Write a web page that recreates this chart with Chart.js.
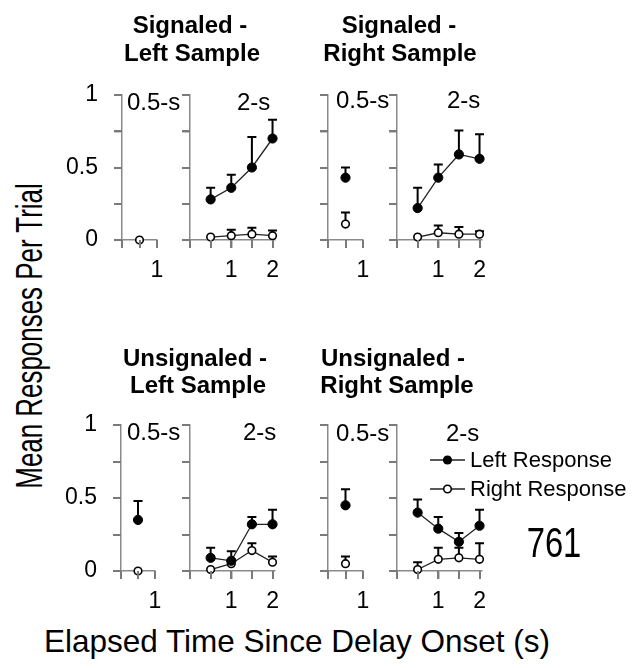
<!DOCTYPE html>
<html>
<head>
<meta charset="utf-8">
<script src="https://cdn.jsdelivr.net/npm/chart.js@4.4.0/dist/chart.umd.min.js"></script>
<style>
  html, body { margin: 0; padding: 0; background: #fff; }
  #fig { position: relative; width: 632px; height: 668px; overflow: hidden; font-family: "Liberation Sans", Arial, sans-serif; color: #000; }
  #fig canvas { position: absolute; background: transparent; }
  .txt { position: absolute; white-space: nowrap; line-height: 1; pointer-events: none; }
</style>
</head>
<body>
<div id="fig"></div>
<script>
// elapsed time of each sample within the delay (s)
const timesShort = [0.5];
const timesLong = [0.5, 1, 1.5, 2];

// Signaled - Left Sample
const sigLeftShortL = [null];
const sigLeftShortLErr = [0];
const sigLeftShortR = [0];
const sigLeftShortRErr = [0];
const sigLeftLongL = [0.28, 0.36, 0.50, 0.70];
const sigLeftLongLErr = [0.08, 0.09, 0.21, 0.13];
const sigLeftLongR = [0.02, 0.03, 0.04, 0.03];
const sigLeftLongRErr = [0, 0.04, 0.045, 0.035];

// Signaled - Right Sample
const sigRightShortL = [0.43];
const sigRightShortLErr = [0.07];
const sigRightShortR = [0.11];
const sigRightShortRErr = [0.08];
const sigRightLongL = [0.22, 0.43, 0.59, 0.56];
const sigRightLongLErr = [0.14, 0.09, 0.165, 0.17];
const sigRightLongR = [0.02, 0.05, 0.04, 0.04];
const sigRightLongRErr = [0, 0.05, 0.05, 0.02];

// Unsignaled - Left Sample
const unsLeftShortL = [0.35];
const unsLeftShortLErr = [0.13];
const unsLeftShortR = [0];
const unsLeftShortRErr = [0];
const unsLeftLongL = [0.09, 0.07, 0.32, 0.32];
const unsLeftLongLErr = [0.07, 0.065, 0.05, 0.1];
const unsLeftLongR = [0.01, 0.05, 0.14, 0.06];
const unsLeftLongRErr = [0, 0.02, 0.05, 0.04];

// Unsignaled - Right Sample
const unsRightShortL = [0.45];
const unsRightShortLErr = [0.11];
const unsRightShortR = [0.05];
const unsRightShortRErr = [0.05];
const unsRightLongL = [0.40, 0.29, 0.20, 0.31];
const unsRightLongLErr = [0.09, 0.08, 0.06, 0.11];
const unsRightLongR = [0.01, 0.08, 0.09, 0.08];
const unsRightLongRErr = [0.05, 0.08, 0.07, 0.11];

const yTicks = [0, 0.25, 0.5, 0.75, 1];
const yTickLabels = { 0: '0', 0.5: '0.5', 1: '1' };
const xTicksShort = [0, 0.5, 1];
const xTicksLong = [0, 0.5, 1, 1.5, 2];
const xTickLabels = { 1: '1', 2: '2' };

const FONT = '"Liberation Sans", Arial, sans-serif';
const AXIS = '#8a8a8a';
const TICK = '#7a7a7a';
const TICK_LEN = 8;
const fig = document.getElementById('fig');

// outward tick marks on both axes, taken from each scale's own ticks;
// drawn last so nothing paints over them
const axisTicks = {
  id: 'axisTicks',
  afterDraw(chart) {
    const ctx = chart.ctx;
    const xs = chart.scales.x, ys = chart.scales.y;
    const area = chart.chartArea;
    ctx.save();
    ctx.strokeStyle = TICK;
    ctx.lineWidth = 2;
    ctx.setLineDash([]);
    ctx.beginPath();
    ys.ticks.forEach((t) => {
      const py = Math.round(ys.getPixelForValue(t.value));
      ctx.moveTo(area.left - TICK_LEN, py);
      ctx.lineTo(area.left, py);
    });
    xs.ticks.forEach((t) => {
      const px = Math.round(xs.getPixelForValue(t.value));
      ctx.moveTo(px, area.bottom);
      ctx.lineTo(px, area.bottom + TICK_LEN);
    });
    ctx.stroke();
    ctx.restore();
  }
};

// upward error bars, drawn under the markers
const errorBars = {
  id: 'errorBars',
  beforeDatasetsDraw(chart) {
    const ctx = chart.ctx;
    const xs = chart.scales.x, ys = chart.scales.y;
    chart.data.datasets.forEach((ds) => {
      if (!ds.errors) return;
      ctx.save();
      ctx.strokeStyle = '#000';
      ctx.lineWidth = 2;
      ds.data.forEach((p, i) => {
        const e = ds.errors[i];
        if (p.y == null || !e) return;
        const px = xs.getPixelForValue(p.x);
        const y0 = ys.getPixelForValue(p.y);
        const y1 = ys.getPixelForValue(p.y + e);
        ctx.beginPath();
        ctx.moveTo(px, y0);
        ctx.lineTo(px, y1);
        ctx.moveTo(px - 4.5, y1);
        ctx.lineTo(px + 4.5, y1);
        ctx.stroke();
      });
      ctx.restore();
    });
  }
};

function points(xs, ys) {
  return xs.map((x, i) => ({ x: x, y: ys[i] }));
}

function axisGrid() {
  return { drawOnChartArea: false, tickLength: TICK_LEN, color: AXIS, lineWidth: 1.5 };
}

function panel(box, xMax, xs, left, leftErr, right, rightErr, showY) {
  const padL = 70, padT = 12, padR = 12, padB = 50;
  const w = Math.round(box.right - box.left + padL + padR);
  const h = Math.round(box.bottom - box.top + padT + padB);
  const canvas = document.createElement('canvas');
  canvas.width = w;
  canvas.height = h;
  canvas.style.left = Math.round(box.left - padL) + 'px';
  canvas.style.top = Math.round(box.top - padT) + 'px';
  fig.appendChild(canvas);

  const xTickList = xMax > 1.5 ? xTicksLong : xTicksShort;

  return new Chart(canvas, {
    type: 'line',
    data: {
      datasets: [
        {
          label: 'Left Response',
          data: points(xs, left),
          errors: leftErr,
          borderColor: '#222',
          borderWidth: 1.3,
          pointRadius: 4.6,
          pointBackgroundColor: '#000',
          pointBorderColor: '#000',
          pointBorderWidth: 1,
          clip: false
        },
        {
          label: 'Right Response',
          data: points(xs, right),
          errors: rightErr,
          borderColor: '#222',
          borderWidth: 1.3,
          pointRadius: 3.8,
          pointBackgroundColor: '#fff',
          pointBorderColor: '#000',
          pointBorderWidth: 1.6,
          clip: false
        }
      ]
    },
    options: {
      responsive: false,
      animation: false,
      layout: { padding: { left: 0, top: padT, right: padR, bottom: 0 } },
      plugins: { legend: { display: false }, tooltip: { enabled: false } },
      scales: {
        x: {
          type: 'linear',
          min: 0,
          max: xMax,
          afterBuildTicks: (s) => { s.ticks = xTickList.map((v) => ({ value: v })); },
          afterFit: (s) => { s.height = padB; s.paddingLeft = 0; s.paddingRight = 0; },
          grid: axisGrid(),
          border: { color: AXIS, width: 1.5 },
          ticks: {
            callback: (v) => xTickLabels[v] || '',
            font: { family: FONT, size: 23 },
            color: '#000',
            padding: 9,
            maxRotation: 0
          }
        },
        y: {
          type: 'linear',
          min: 0,
          max: 1,
          afterBuildTicks: (s) => { s.ticks = yTicks.map((v) => ({ value: v })); },
          afterFit: (s) => { s.width = padL; s.paddingTop = 0; s.paddingBottom = 0; },
          grid: axisGrid(),
          border: { color: AXIS, width: 1.5 },
          ticks: {
            callback: (v) => (showY ? (yTickLabels[v] || '') : ''),
            font: { family: FONT, size: 23 },
            color: '#000',
            padding: 16
          }
        }
      }
    },
    plugins: [errorBars, axisTicks]
  });
}

// text placed by its baseline; anchor 'left' or 'center'
function text(str, x, baseline, size, opts) {
  opts = opts || {};
  const d = document.createElement('div');
  d.className = 'txt';
  d.textContent = str;
  d.style.fontSize = size + 'px';
  if (opts.bold) d.style.fontWeight = 'bold';
  d.style.left = x + 'px';
  d.style.top = (baseline - 0.8465 * size) + 'px';
  const sx = opts.sx || 1;
  if (opts.anchor === 'center') {
    d.style.transform = 'translateX(-50%) scaleX(' + sx + ')';
  } else if (sx !== 1) {
    d.style.transformOrigin = 'left center';
    d.style.transform = 'scaleX(' + sx + ')';
  }
  fig.appendChild(d);
  return d;
}

const topRow = { top: 94.5, bottom: 239.5 };
const botRow = { top: 425, bottom: 571 };

panel({ left: 121.5, right: 156.5, ...topRow }, 1, timesShort, sigLeftShortL, sigLeftShortLErr, sigLeftShortR, sigLeftShortRErr, true);
panel({ left: 190, right: 275, ...topRow }, 2.06, timesLong, sigLeftLongL, sigLeftLongLErr, sigLeftLongR, sigLeftLongRErr, false);
panel({ left: 328, right: 363, ...topRow }, 1, timesShort, sigRightShortL, sigRightShortLErr, sigRightShortR, sigRightShortRErr, false);
panel({ left: 396.5, right: 481.5, ...topRow }, 2.06, timesLong, sigRightLongL, sigRightLongLErr, sigRightLongR, sigRightLongRErr, false);

panel({ left: 121, right: 155, ...botRow }, 1, timesShort, unsLeftShortL, unsLeftShortLErr, unsLeftShortR, unsLeftShortRErr, true);
panel({ left: 190, right: 275, ...botRow }, 2.06, timesLong, unsLeftLongL, unsLeftLongLErr, unsLeftLongR, unsLeftLongRErr, false);
panel({ left: 328, right: 363, ...botRow }, 1, timesShort, unsRightShortL, unsRightShortLErr, unsRightShortR, unsRightShortRErr, false);
panel({ left: 396.5, right: 481.5, ...botRow }, 2.06, timesLong, unsRightLongL, unsRightLongLErr, unsRightLongR, unsRightLongRErr, false);

// panel headings
text('Signaled -', 190, 33, 24, { bold: true, anchor: 'center' });
text('Left Sample', 192, 61, 24, { bold: true, anchor: 'center' });
text('Signaled -', 399, 33, 24, { bold: true, anchor: 'center' });
text('Right Sample', 400, 61, 24, { bold: true, anchor: 'center' });
text('Unsignaled -', 195, 366, 24, { bold: true, anchor: 'center' });
text('Left Sample', 198, 393, 24, { bold: true, anchor: 'center' });
text('Unsignaled -', 393, 366, 24, { bold: true, anchor: 'center' });
text('Right Sample', 397, 393, 24, { bold: true, anchor: 'center' });

// delay labels inside each pair of panels
text('0.5-s', 127, 110, 24);
text('2-s', 237, 110, 24);
text('0.5-s', 336, 108, 24);
text('2-s', 447, 108, 24);
text('0.5-s', 127, 440, 24);
text('2-s', 243, 440, 24);
text('0.5-s', 336, 441, 24);
text('2-s', 446, 441, 24);

// legend
const legend = document.createElement('div');
legend.style.cssText = 'position:absolute;left:428px;top:448px;';
legend.innerHTML =
  '<svg width="40" height="60" style="position:absolute;left:0;top:0">' +
  '<line x1="2" y1="12" x2="37" y2="12" stroke="#222" stroke-width="1.5"/>' +
  '<circle cx="19.5" cy="12" r="4.6" fill="#000"/>' +
  '<line x1="2" y1="41" x2="37" y2="41" stroke="#222" stroke-width="1.5"/>' +
  '<circle cx="19.5" cy="41" r="3.8" fill="#fff" stroke="#000" stroke-width="1.6"/>' +
  '</svg>';
fig.appendChild(legend);
text('Left Response', 470, 468, 22);
text('Right Response', 470, 497, 22);

text('761', 554, 558, 42, { anchor: 'center', sx: 0.78 });

// axis titles
text('Elapsed Time Since Delay Onset (s)', 297, 653, 31.5, { anchor: 'center' });
const yTitle = document.createElement('div');
yTitle.className = 'txt';
yTitle.textContent = 'Mean Responses Per Trial';
yTitle.style.fontSize = '36px';
yTitle.style.left = '30px';
yTitle.style.top = '336px';
yTitle.style.transform = 'translate(-50%, -50%) rotate(-90deg) scaleX(0.72)';
fig.appendChild(yTitle);
</script>
</body>
</html>
